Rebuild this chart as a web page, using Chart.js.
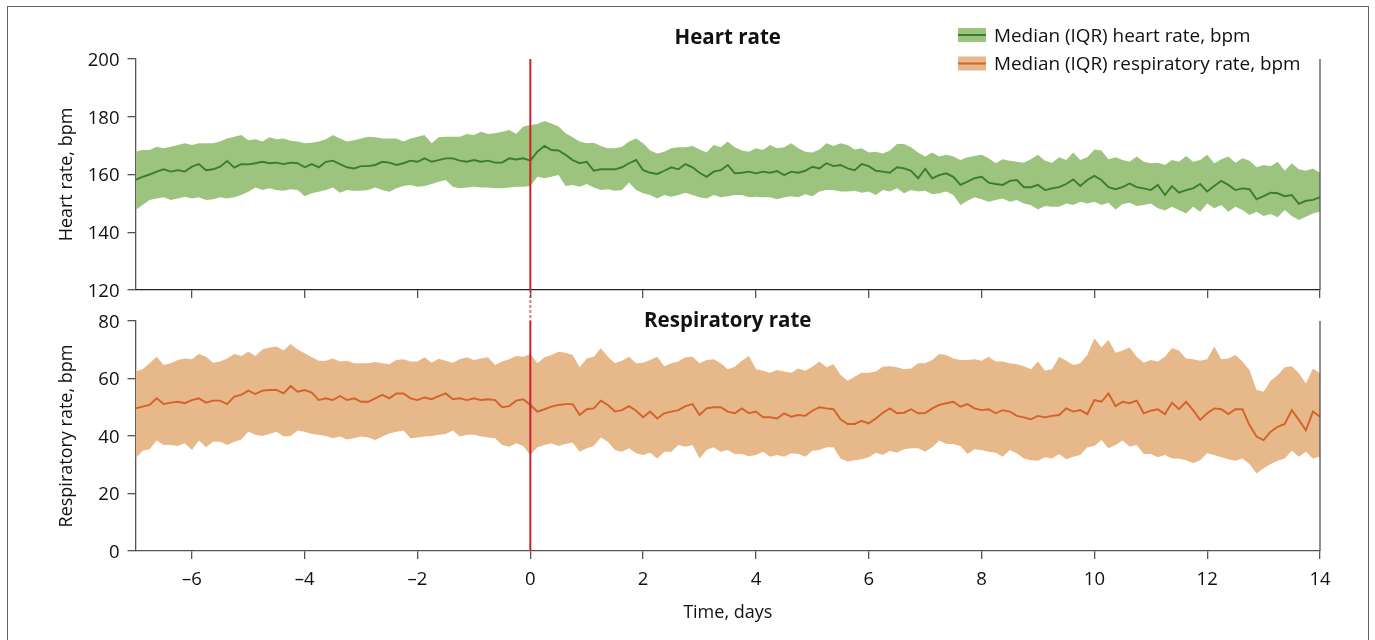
<!DOCTYPE html>
<html>
<head>
<meta charset="utf-8">
<script src="https://cdn.jsdelivr.net/npm/chart.js@4.4.1/dist/chart.umd.min.js"></script>
<style>
  html, body { margin: 0; padding: 0; background: #fff; overflow: hidden; }
  #frame { position: absolute; left: 7px; top: 6px; width: 1360px; height: 700px; border: 1.5px solid #666; }
  canvas { position: absolute; left: 0; }
  #hr { top: 0; }
  #rr { top: 300px; }
</style>
</head>
<body>
<div id="frame"></div>
<canvas id="hr" width="1375" height="310"></canvas>
<canvas id="rr" width="1375" height="340"></canvas>
<script>
// values sampled every 3 h (0.125 day), day -7 to day 14
var HR_MEDIAN = [158.1, 159.2, 160.0, 161.0, 161.8, 161.0, 161.5, 161.0, 162.7,
  163.6, 161.5, 161.8, 162.7, 164.7, 162.4, 163.6, 163.5,
  163.9, 164.4, 163.9, 164.1, 163.6, 164.1, 163.9, 162.5,
  163.6, 162.5, 164.4, 164.8, 163.6, 162.5, 162.1, 162.9,
  162.9, 163.3, 164.4, 164.1, 163.3, 163.9, 164.8, 164.4,
  165.6, 164.4, 165.0, 165.6, 165.6, 164.8, 164.4, 165.0,
  164.4, 164.8, 164.1, 164.1, 165.6, 165.2, 165.6, 164.8,
  167.9, 169.9, 168.5, 168.3, 166.8, 165.0, 163.9, 164.4,
  161.3, 161.8, 161.8, 161.8, 162.5, 163.9, 165.0, 161.5,
  160.6, 160.2, 161.3, 162.5, 161.8, 163.6, 162.5, 160.6,
  159.2, 161.0, 161.5, 163.3, 160.4, 160.6, 161.0, 160.4,
  161.0, 160.6, 161.2, 159.8, 161.0, 160.6, 161.3, 162.7,
  162.1, 163.9, 162.9, 163.3, 162.1, 161.5, 163.6, 162.9,
  161.3, 161.0, 160.6, 162.5, 162.1, 161.3, 158.7, 162.0,
  158.7, 159.8, 160.4, 159.2, 156.4, 157.5, 158.7, 159.2,
  157.2, 156.7, 156.4, 157.8, 158.1, 155.6, 155.6, 156.4,
  154.6, 155.2, 155.6, 156.7, 158.3, 156.0, 158.1, 159.5,
  158.1, 155.6, 154.9, 155.6, 156.9, 155.6, 155.2, 154.6,
  156.4, 152.9, 156.0, 153.7, 154.6, 155.2, 156.7, 154.1,
  156.0, 157.8, 156.4, 154.6, 155.2, 154.9, 151.4, 152.5,
  153.7, 153.5, 152.5, 152.9, 149.8, 150.9, 151.2, 152.1];

var HR_Q3 = [167.9, 168.5, 168.5, 169.6, 169.1, 169.6, 170.2, 170.8, 170.2,
  170.8, 170.8, 170.8, 171.4, 172.5, 173.1, 173.7, 171.9,
  172.2, 171.4, 172.9, 172.2, 172.5, 171.7, 171.4, 170.8,
  171.0, 171.4, 172.2, 173.7, 172.5, 171.4, 171.9, 172.5,
  173.1, 172.9, 172.5, 172.5, 172.5, 171.4, 172.5, 173.1,
  173.7, 170.8, 172.9, 173.1, 173.1, 173.1, 174.0, 173.7,
  174.8, 174.0, 174.3, 174.8, 175.4, 174.0, 176.6, 177.1,
  177.5, 178.5, 177.7, 176.6, 174.3, 172.9, 171.4, 170.8,
  171.0, 169.9, 169.1, 169.1, 169.6, 171.4, 172.5, 170.8,
  168.3, 167.3, 167.9, 169.1, 169.4, 169.4, 169.9, 168.7,
  167.6, 170.2, 169.4, 171.4, 169.4, 168.3, 167.9, 169.1,
  168.5, 170.2, 169.1, 169.4, 170.8, 169.1, 167.9, 167.6,
  168.7, 170.8, 169.9, 170.8, 170.2, 168.7, 169.1, 167.6,
  167.9, 167.3, 168.3, 170.6, 170.6, 169.4, 167.6, 166.2,
  167.6, 166.2, 166.8, 166.2, 165.0, 166.0, 166.4, 166.8,
  165.6, 163.9, 165.3, 164.8, 164.4, 164.1, 165.3, 166.8,
  164.8, 164.1, 166.0, 165.0, 167.6, 165.0, 166.0, 168.7,
  168.3, 165.3, 166.0, 165.0, 164.4, 166.2, 164.4, 163.9,
  164.1, 163.3, 165.0, 164.4, 166.4, 164.4, 165.0, 166.8,
  163.9, 165.3, 166.2, 164.1, 165.6, 164.8, 162.5, 163.3,
  162.9, 164.4, 161.3, 163.9, 161.8, 161.3, 162.1, 160.6];

var HR_Q1 = [147.7, 149.4, 151.2, 151.7, 152.1, 151.2, 151.7, 152.3, 151.7,
  152.1, 151.2, 151.4, 152.1, 151.7, 152.1, 152.9, 154.0,
  155.5, 154.6, 155.2, 154.6, 154.4, 154.9, 154.6, 152.5,
  153.5, 154.0, 154.6, 155.5, 153.7, 154.6, 154.4, 154.4,
  154.6, 155.5, 154.6, 154.0, 155.2, 156.0, 156.4, 155.8,
  156.0, 156.7, 157.5, 158.1, 155.8, 155.2, 155.5, 155.8,
  155.5, 155.5, 155.2, 155.2, 155.5, 155.8, 155.8, 156.0,
  159.2, 158.7, 159.2, 159.8, 156.0, 156.4, 155.8, 156.7,
  155.5, 154.6, 154.9, 154.4, 154.6, 157.2, 154.6, 153.5,
  152.9, 151.7, 152.9, 152.3, 152.9, 153.7, 152.9, 152.1,
  151.7, 152.9, 152.1, 152.5, 152.9, 152.9, 152.1, 152.3,
  152.1, 152.1, 151.4, 152.1, 152.5, 152.1, 153.2, 152.5,
  154.1, 154.6, 154.6, 154.1, 154.1, 154.4, 153.7, 154.1,
  152.9, 154.6, 154.1, 155.2, 153.5, 154.6, 154.1, 154.4,
  153.2, 153.5, 154.1, 152.9, 149.4, 150.9, 152.1, 151.4,
  150.6, 151.2, 151.7, 150.6, 151.2, 150.0, 149.4, 147.9,
  149.1, 148.8, 148.8, 150.0, 149.4, 150.6, 150.0, 150.6,
  149.4, 150.2, 147.9, 149.8, 150.2, 149.1, 149.4, 150.0,
  148.3, 147.5, 148.8, 147.7, 146.5, 148.8, 147.1, 150.0,
  148.3, 149.4, 147.1, 148.8, 147.7, 146.0, 147.1, 145.6,
  146.3, 145.2, 147.7, 145.6, 144.2, 145.4, 146.5, 147.1];

var RR_MEDIAN = [49.6, 50.2, 50.8, 53.1, 51.1, 51.6, 51.9, 51.4, 52.5,
  53.1, 51.6, 52.3, 52.3, 51.1, 53.7, 54.3, 55.8,
  54.6, 55.8, 56.0, 56.0, 54.8, 57.4, 55.4, 56.0,
  55.1, 52.5, 53.1, 52.5, 53.9, 52.5, 53.1, 51.9,
  51.9, 53.1, 54.3, 53.1, 54.8, 54.8, 53.1, 52.5,
  53.4, 52.8, 53.9, 54.8, 52.8, 53.1, 52.5, 53.1,
  52.5, 52.8, 52.5, 50.0, 50.4, 52.3, 52.8, 50.8,
  48.5, 49.3, 50.2, 50.8, 51.1, 51.1, 47.3, 49.3,
  49.6, 52.3, 50.8, 48.5, 49.0, 50.4, 48.8, 46.5,
  48.5, 46.1, 47.9, 48.5, 49.0, 50.4, 51.1, 47.3,
  49.6, 50.0, 50.0, 48.5, 47.9, 49.6, 47.9, 48.5,
  46.5, 46.5, 46.1, 47.9, 46.7, 47.3, 47.0, 48.8,
  50.0, 49.6, 49.3, 45.8, 44.2, 44.2, 45.3, 44.4,
  46.1, 48.1, 49.6, 47.9, 48.1, 49.3, 47.9, 48.0,
  49.6, 50.8, 51.4, 51.9, 50.2, 51.1, 49.6, 49.0,
  49.3, 47.9, 49.0, 48.5, 47.0, 46.5, 45.8, 47.0,
  46.5, 47.0, 47.3, 49.6, 48.5, 49.0, 47.6, 52.5,
  51.9, 54.8, 50.4, 51.9, 51.4, 52.3, 47.9, 48.8,
  49.3, 47.6, 51.6, 49.3, 51.9, 49.0, 45.6, 47.9,
  49.6, 49.3, 47.6, 49.3, 49.3, 43.8, 39.8, 38.6,
  41.5, 43.2, 44.2, 49.0, 45.6, 42.0, 48.5, 46.7];

var RR_Q3 = [62.4, 63.2, 65.3, 67.6, 64.7, 65.3, 66.4, 67.0, 66.7,
  68.5, 67.6, 65.5, 65.9, 67.0, 68.5, 67.8, 69.3,
  67.8, 70.1, 70.8, 71.1, 69.7, 72.0, 70.1, 68.8,
  67.4, 66.2, 66.2, 67.0, 65.9, 66.2, 65.3, 65.3,
  65.3, 65.7, 65.3, 65.0, 66.4, 66.7, 65.9, 65.9,
  67.4, 65.5, 66.9, 66.2, 65.5, 66.7, 67.4, 66.4,
  67.0, 67.4, 64.7, 65.9, 66.7, 67.8, 67.6, 68.5,
  65.3, 67.4, 68.2, 69.3, 69.0, 68.2, 63.9, 67.0,
  67.6, 70.5, 67.6, 65.3, 66.2, 67.6, 65.3, 65.5,
  66.4, 67.6, 64.3, 65.3, 65.9, 67.4, 67.6, 65.3,
  66.4, 66.7, 65.3, 63.2, 64.1, 66.2, 67.8, 63.2,
  62.7, 62.0, 63.0, 62.4, 62.0, 63.5, 62.7, 64.1,
  65.9, 63.9, 65.0, 61.2, 59.2, 60.6, 62.0, 62.0,
  62.4, 64.1, 64.3, 63.9, 63.2, 63.5, 65.3, 65.3,
  66.4, 68.5, 68.2, 67.0, 66.4, 66.4, 66.7, 66.2,
  67.6, 65.9, 65.9, 65.3, 65.0, 64.3, 63.2, 65.9,
  62.7, 63.2, 67.6, 66.2, 64.7, 65.3, 68.2, 74.0,
  70.8, 73.4, 69.0, 69.7, 70.8, 67.6, 65.5, 66.4,
  65.9, 67.6, 70.5, 69.7, 67.0, 66.7, 66.2, 66.7,
  71.1, 66.7, 67.0, 68.2, 65.9, 63.0, 56.0, 55.4,
  59.2, 61.2, 63.9, 64.3, 61.8, 58.3, 63.5, 61.8];

var RR_Q1 = [32.2, 34.9, 35.4, 38.4, 36.9, 36.9, 36.5, 37.5, 35.1,
  38.4, 36.1, 38.0, 38.0, 36.9, 38.0, 38.8, 41.5,
  40.4, 40.0, 40.7, 41.5, 39.8, 40.0, 41.9, 41.5,
  40.7, 40.4, 40.0, 39.2, 39.8, 38.8, 39.2, 39.8,
  39.5, 38.6, 39.8, 40.9, 41.5, 41.9, 39.2, 39.5,
  39.8, 40.0, 40.4, 40.7, 41.9, 39.8, 40.4, 40.4,
  39.8, 39.5, 39.2, 36.9, 36.3, 37.5, 36.5, 33.4,
  36.1, 36.9, 37.5, 36.5, 37.2, 37.7, 34.5, 35.7,
  36.5, 39.5, 38.0, 35.1, 34.5, 35.7, 34.0, 33.4,
  34.2, 32.2, 34.5, 34.5, 36.9, 36.3, 36.9, 32.2,
  35.1, 36.1, 34.5, 35.1, 33.7, 33.7, 33.0, 33.4,
  34.5, 32.8, 33.4, 32.8, 34.0, 33.7, 32.8, 34.9,
  35.1, 36.1, 36.1, 32.2, 31.1, 31.6, 31.9, 32.6,
  34.2, 33.4, 34.9, 34.2, 35.4, 35.7, 35.7, 34.5,
  36.1, 38.4, 37.2, 37.2, 36.5, 33.7, 35.4, 35.1,
  34.5, 34.2, 32.8, 35.1, 34.0, 32.2, 31.6, 31.4,
  32.6, 32.2, 33.7, 31.9, 32.8, 33.4, 36.1, 36.5,
  38.6, 35.7, 36.9, 38.4, 36.3, 36.9, 33.7, 33.7,
  32.6, 33.4, 32.2, 32.2, 31.6, 30.5, 31.6, 34.0,
  33.4, 32.6, 31.9, 31.4, 32.2, 30.3, 27.0, 28.8,
  30.3, 31.4, 32.2, 34.9, 32.8, 34.5, 32.2, 32.8];

// time grid: one sample every 3 hours
var TIME_DAYS = HR_MEDIAN.map(function(_, i) { return -7 + i / 8; });
var X_TICKS = [-6, -4, -2, 0, 2, 4, 6, 8, 10, 12, 14];
var HR_TICKS = [120, 140, 160, 180, 200];
var RR_TICKS = [0, 20, 40, 60, 80];

var GREEN_BAND = '#9dc47e';
var GREEN_LINE = '#3a7d2e';
var ORANGE_BAND = '#e6b88a';
var ORANGE_LINE = '#d4622a';
var EVENT_RED = '#cc1f2b';
var AXIS_COLOR = '#555';
var FONT = "'Open Sans', sans-serif";

Chart.defaults.font.family = FONT;
Chart.defaults.color = '#111';

function pts(values) {
  return values.map(function(v, i) { return { x: TIME_DAYS[i], y: v }; });
}

function dashLabel(v) {
  return v < 0 ? '\u2013' + Math.abs(v) : String(v);
}

// event line, right border and panel title
var panelDecor = {
  id: 'panelDecor',
  afterDraw: function(chart, args, opts) {
    var ctx = chart.ctx, a = chart.chartArea;
    var x0 = chart.scales.x.getPixelForValue(0);
    ctx.save();
    ctx.strokeStyle = AXIS_COLOR;
    ctx.lineWidth = 1.3;
    ctx.beginPath();
    ctx.moveTo(a.right, a.top);
    ctx.lineTo(a.right, a.bottom);
    ctx.stroke();

    ctx.strokeStyle = EVENT_RED;
    ctx.lineWidth = 2;
    ctx.beginPath();
    ctx.moveTo(x0, a.top);
    ctx.lineTo(x0, a.bottom);
    ctx.stroke();
    ctx.globalAlpha = 0.6;
    ctx.setLineDash([3, 2]);
    ctx.beginPath();
    if (opts.gapBelow) { ctx.moveTo(x0, a.bottom); ctx.lineTo(x0, chart.height); }
    else { ctx.moveTo(x0, 10); ctx.lineTo(x0, a.top); }
    ctx.stroke();
    ctx.restore();

    ctx.save();
    ctx.font = 'bold 20.5px ' + FONT;
    ctx.fillStyle = '#111';
    ctx.textAlign = 'center';
    ctx.textBaseline = 'middle';
    ctx.fillText(opts.title, (a.left + a.right) / 2, a.top + opts.titleOffset);
    ctx.restore();
  }
};

var legendItems = [
  { text: 'Median (IQR) heart rate, bpm', band: GREEN_BAND, line: GREEN_LINE },
  { text: 'Median (IQR) respiratory rate, bpm', band: ORANGE_BAND, line: ORANGE_LINE }
];

var figLegend = {
  id: 'figLegend',
  afterDraw: function(chart) {
    var ctx = chart.ctx;
    ctx.save();
    ctx.font = '18.9px ' + FONT;
    ctx.textBaseline = 'middle';
    legendItems.forEach(function(item, k) {
      var y = 35 + k * 28.5;
      ctx.fillStyle = item.band;
      ctx.fillRect(958, y - 7, 28, 14);
      ctx.strokeStyle = item.line;
      ctx.lineWidth = 2;
      ctx.beginPath();
      ctx.moveTo(958, y);
      ctx.lineTo(986, y);
      ctx.stroke();
      ctx.fillStyle = '#111';
      ctx.fillText(item.text, 994, y + 1.5);
    });
    ctx.restore();
  }
};

function bandSets(q3, q1, med, band, line, label) {
  return [
    { data: pts(q3), order: 2, borderColor: 'rgba(0,0,0,0)', borderWidth: 0, backgroundColor: band, fill: '+1', pointRadius: 0, tension: 0 },
    { data: pts(q1), order: 2, borderColor: 'rgba(0,0,0,0)', borderWidth: 0, fill: false, pointRadius: 0, tension: 0 },
    { label: label, data: pts(med), order: 0, borderColor: line, borderWidth: 1.9, fill: false, pointRadius: 0, tension: 0 }
  ];
}

function options(cfg) {
  return {
    responsive: false,
    animation: false,
    devicePixelRatio: 1,
    events: [],
    layout: { padding: cfg.padding },
    plugins: {
      legend: { display: false },
      tooltip: { enabled: false },
      panelDecor: { title: cfg.title, titleOffset: cfg.titleOffset, gapBelow: cfg.gapBelow }
    },
    scales: {
      x: {
        type: 'linear', min: -7, max: 14,
        afterBuildTicks: function(s) { s.ticks = X_TICKS.map(function(v) { return { value: v }; }); },
        afterFit: function(s) { s.height = cfg.xHeight; },
        grid: { drawOnChartArea: false, tickLength: 8, color: AXIS_COLOR, lineWidth: 1.3 },
        border: { color: cfg.xBorder, width: 1.3 },
        ticks: { display: cfg.xLabels, padding: 10, font: { size: 18.5 }, color: '#111', callback: dashLabel, maxRotation: 0 },
        title: { display: cfg.xLabels, text: 'Time, days', font: { size: 18 }, color: '#111', padding: { top: 0, bottom: 1 } }
      },
      y: {
        min: cfg.yMin, max: cfg.yMax,
        afterBuildTicks: function(s) { s.ticks = cfg.yTicks.map(function(v) { return { value: v }; }); },
        afterFit: function(s) { s.width = 85.5; },
        grid: { drawOnChartArea: false, tickLength: 8, color: AXIS_COLOR, lineWidth: 1.3 },
        border: { color: AXIS_COLOR, width: 1.3 },
        ticks: { padding: 8, labelOffset: 1.5, font: { size: 18.5 }, color: '#111' },
        title: { display: true, text: cfg.yTitle, font: { size: 18 }, color: '#111', padding: { top: 6, bottom: 0 } }
      }
    }
  };
}

new Chart(document.getElementById('hr'), {
  type: 'line',
  data: { datasets: bandSets(HR_Q3, HR_Q1, HR_MEDIAN, GREEN_BAND, GREEN_LINE, 'Median (IQR) heart rate, bpm') },
  options: options({
    padding: { left: 50, right: 55, top: 59, bottom: 0 },
    xHeight: 20, xLabels: false, xBorder: '#222',
    yMin: 120, yMax: 200, yTicks: HR_TICKS, yTitle: 'Heart rate, bpm',
    title: 'Heart rate', titleOffset: -21, gapBelow: true
  }),
  plugins: [panelDecor, figLegend]
});

new Chart(document.getElementById('rr'), {
  type: 'line',
  data: { datasets: bandSets(RR_Q3, RR_Q1, RR_MEDIAN, ORANGE_BAND, ORANGE_LINE, 'Median (IQR) respiratory rate, bpm') },
  options: options({
    padding: { left: 50, right: 55, top: 21, bottom: 15 },
    xHeight: 74, xLabels: true, xBorder: AXIS_COLOR,
    yMin: 0, yMax: 80, yTicks: RR_TICKS, yTitle: 'Respiratory rate, bpm',
    title: 'Respiratory rate', titleOffset: 0, gapBelow: false
  }),
  plugins: [panelDecor]
});
</script>
</body>
</html>
